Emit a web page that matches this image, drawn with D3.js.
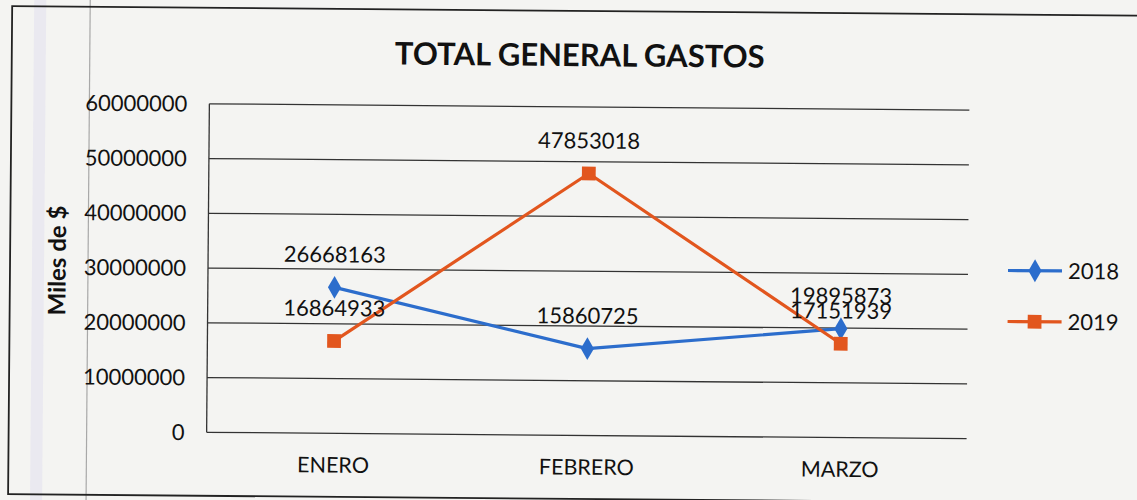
<!DOCTYPE html>
<html>
<head>
<meta charset="utf-8">
<script src="https://cdn.jsdelivr.net/npm/d3@7"></script>
<style>
  html, body { margin: 0; padding: 0; background: #f4f4f2; }
  svg { display: block; font-family: Lato, "Open Sans", sans-serif; }
</style>
</head>
<body>
<div id="chart"></div>
<script>
// datos del gráfico
const meses = ["ENERO", "FEBRERO", "MARZO"];
const gastos2018 = [26668163, 15860725, 19895873];
const gastos2019 = [16864933, 47853018, 17151939];
const ticksY = [0, 10000000, 20000000, 30000000, 40000000, 50000000, 60000000];

const width = 1137;
const height = 500;

const svg = d3.select("#chart")
  .append("svg")
  .attr("width", width)
  .attr("height", height);

// fondo del escaneo
svg.append("rect")
  .attr("width", width)
  .attr("height", height)
  .attr("fill", "#f4f4f2");

// la hoja escaneada está un poco girada
const g = svg.append("g")
  .attr("transform", "rotate(0.48, 588, 270)");

// marcas del escaneo
g.append("rect")
  .attr("x", 32).attr("y", -20)
  .attr("width", 12).attr("height", 560)
  .attr("fill", "#e6e4f0")
  .attr("opacity", 0.7);
g.append("line")
  .attr("x1", 88).attr("x2", 88)
  .attr("y1", -20).attr("y2", 540)
  .attr("stroke", "#a8a8a8")
  .attr("stroke-width", 1.2);

// marco del gráfico
g.append("rect")
  .attr("x", 10).attr("y", 11)
  .attr("width", 1160).attr("height", 488)
  .attr("fill", "none")
  .attr("stroke", "#222")
  .attr("stroke-width", 1.8);

const margin = { left: 208, right: 968, top: 107, bottom: 435.5 };

const x = d3.scaleBand()
  .domain(meses)
  .range([margin.left, margin.right]);

const y = d3.scaleLinear()
  .domain([0, 60000000])
  .range([margin.bottom, margin.top]);

// líneas de cuadrícula
g.append("g")
  .selectAll("line")
  .data(ticksY)
  .enter().append("line")
  .attr("x1", margin.left)
  .attr("x2", margin.right)
  .attr("y1", d => y(d))
  .attr("y2", d => y(d))
  .attr("stroke", "#333")
  .attr("stroke-width", 1.3);

// eje vertical izquierdo
g.append("line")
  .attr("x1", margin.left).attr("x2", margin.left)
  .attr("y1", margin.top).attr("y2", margin.bottom)
  .attr("stroke", "#333")
  .attr("stroke-width", 1.3);

// etiquetas eje Y
g.append("g")
  .selectAll("text")
  .data(ticksY)
  .enter().append("text")
  .attr("x", 186)
  .attr("y", d => y(d))
  .attr("dy", "0.36em")
  .attr("text-anchor", "end")
  .style("font-size", "22px")
  .style("fill", "#111")
  .text(d => d3.format("d")(d));

// etiquetas eje X
g.append("g")
  .selectAll("text")
  .data(meses)
  .enter().append("text")
  .attr("x", d => x(d) + x.bandwidth() / 2)
  .attr("y", 467)
  .attr("dy", "0.36em")
  .attr("text-anchor", "middle")
  .style("font-size", "21.5px")
  .style("fill", "#111")
  .text(d => d);

// título
g.append("text")
  .attr("x", 578)
  .attr("y", 55)
  .attr("dy", "0.36em")
  .attr("text-anchor", "middle")
  .style("font-size", "31px")
  .style("font-weight", "bold")
  .style("fill", "#111")
  .text("TOTAL GENERAL GASTOS");

// título eje Y
g.append("text")
  .attr("transform", "translate(57, 265) rotate(-90)")
  .attr("dy", "0.36em")
  .attr("text-anchor", "middle")
  .style("font-size", "24px")
  .style("font-weight", "bold")
  .style("fill", "#111")
  .text("Miles de $");

const series = [
  { nombre: "2018", valores: gastos2018, color: "#2c6dcc", marca: d3.symbolDiamond },
  { nombre: "2019", valores: gastos2019, color: "#e2561e", marca: d3.symbolSquare }
];

const linea = d3.line()
  .x((d, i) => x(meses[i]) + x.bandwidth() / 2)
  .y(d => y(d));

series.forEach(s => {
  g.append("path")
    .datum(s.valores)
    .attr("fill", "none")
    .attr("stroke", s.color)
    .attr("stroke-width", 3.2)
    .attr("stroke-linejoin", "round")
    .attr("d", linea);

  g.append("g")
    .selectAll("path")
    .data(s.valores)
    .enter().append("path")
    .attr("transform", (d, i) => `translate(${x(meses[i]) + x.bandwidth() / 2}, ${y(d)})`)
    .attr("d", d3.symbol().type(s.marca).size(s.marca === d3.symbolSquare ? 190 : 150))
    .attr("fill", s.color);
});

// etiquetas de datos
series.forEach(s => {
  g.append("g")
    .selectAll("text")
    .data(s.valores)
    .enter().append("text")
    .attr("x", (d, i) => x(meses[i]) + x.bandwidth() / 2)
    .attr("y", d => y(d) - 33)
    .attr("dy", "0.36em")
    .attr("text-anchor", "middle")
    .style("font-size", "22px")
    .style("fill", "#111")
    .text(d => d);
});

// leyenda
const leyenda = g.append("g")
  .selectAll("g")
  .data(series)
  .enter().append("g")
  .attr("transform", (d, i) => `translate(1008, ${267 + i * 51})`);

leyenda.append("line")
  .attr("x1", 0).attr("x2", 54)
  .attr("stroke", d => d.color)
  .attr("stroke-width", 3.2);

leyenda.append("path")
  .attr("transform", "translate(27, 0)")
  .attr("d", d => d3.symbol().type(d.marca).size(d.marca === d3.symbolSquare ? 190 : 150)())
  .attr("fill", d => d.color);

leyenda.append("text")
  .attr("x", 60)
  .attr("dy", "0.36em")
  .style("font-size", "22px")
  .style("fill", "#111")
  .text(d => d.nombre);
</script>
</body>
</html>
